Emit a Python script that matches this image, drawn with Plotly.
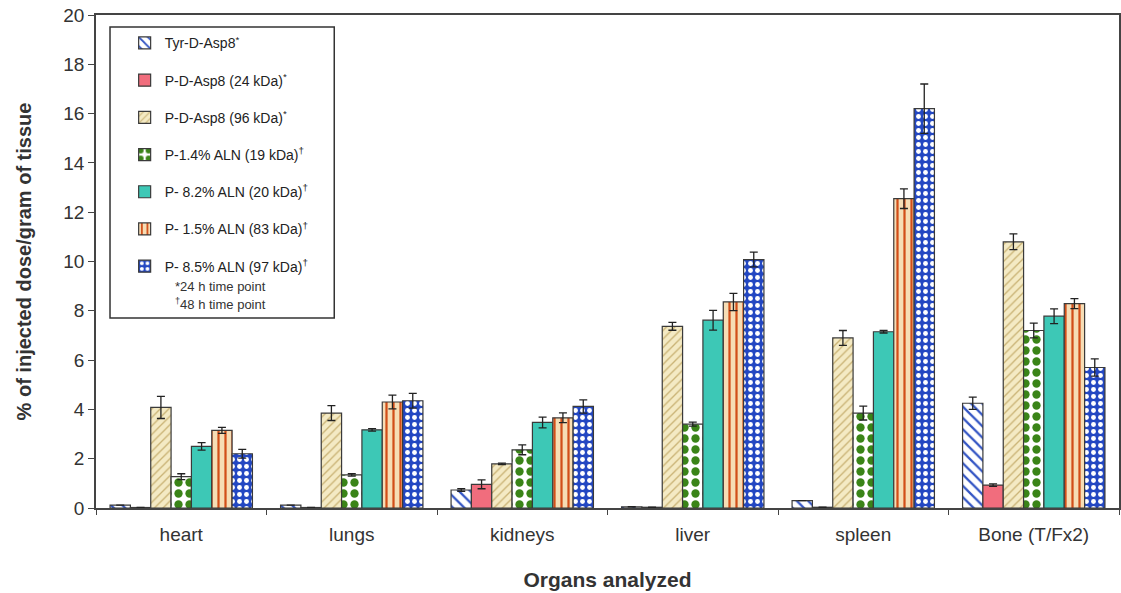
import plotly.graph_objects as go

organs = ["heart", "lungs", "kidneys", "liver", "spleen", "Bone (T/Fx2)"]

series_names = [
    "Tyr-D-Asp8<sup>*</sup>",
    "P-D-Asp8 (24 kDa)<sup>*</sup>",
    "P-D-Asp8 (96 kDa)<sup>*</sup>",
    "P-1.4% ALN (19 kDa)<sup>†</sup>",
    "P- 8.2% ALN (20 kDa)<sup>†</sup>",
    "P- 1.5% ALN (83 kDa)<sup>†</sup>",
    "P- 8.5% ALN (97 kDa)<sup>†</sup>",
]

tyr_vals = [0.12, 0.12, 0.73, 0.05, 0.30, 4.25]
tyr_err = [0.0, 0.0, 0.05, 0.0, 0.0, 0.25]
pd24_vals = [0.02, 0.02, 0.96, 0.03, 0.03, 0.93]
pd24_err = [0.0, 0.0, 0.18, 0.0, 0.0, 0.05]
pd96_vals = [4.08, 3.85, 1.79, 7.37, 6.90, 10.80]
pd96_err = [0.45, 0.30, 0.03, 0.16, 0.30, 0.32]
aln14_vals = [1.27, 1.34, 2.36, 3.40, 3.85, 7.20]
aln14_err = [0.12, 0.05, 0.20, 0.08, 0.28, 0.30]
aln82_vals = [2.50, 3.17, 3.47, 7.62, 7.15, 7.78]
aln82_err = [0.15, 0.05, 0.22, 0.40, 0.05, 0.30]
aln15_vals = [3.15, 4.30, 3.66, 8.36, 12.55, 8.29]
aln15_err = [0.12, 0.28, 0.20, 0.35, 0.40, 0.20]
aln85_vals = [2.20, 4.35, 4.12, 10.08, 16.20, 5.70]
aln85_err = [0.18, 0.30, 0.27, 0.30, 1.00, 0.35]

values = [tyr_vals, pd24_vals, pd96_vals, aln14_vals, aln82_vals, aln15_vals, aln85_vals]
errors = [tyr_err, pd24_err, pd96_err, aln14_err, aln82_err, aln15_err, aln85_err]

styles = [
    dict(color="white", pattern=dict(shape="\\", bgcolor="white", fgcolor="#3355C4", fgopacity=1, size=8, solidity=0.28)),
    dict(color="#F16D7D", pattern=dict(shape="")),
    dict(color="#F4EAC4", pattern=dict(shape="/", bgcolor="#F4EAC4", fgcolor="#C9B274", fgopacity=1, size=6, solidity=0.22)),
    dict(color="white", pattern=dict(shape=".", bgcolor="white", fgcolor="#3A8418", fgopacity=1, size=11, solidity=0.45)),
    dict(color="#3DC8B6", pattern=dict(shape="")),
    dict(color="#F6DDB5", pattern=dict(shape="|", bgcolor="#F6DDB5", fgcolor="#D24E18", fgopacity=1, size=7, solidity=0.32)),
    dict(color="#2347C2", pattern=dict(shape=".", bgcolor="#2347C2", fgcolor="white", fgopacity=1, size=7, solidity=0.38)),
]

fig = go.Figure()
for i, (name, vals, errs, st) in enumerate(zip(series_names, values, errors, styles)):
    fig.add_trace(go.Bar(
        x=organs, y=vals, name=name, legendgroup=f"g{i}",
        marker=dict(color=st["color"], pattern=st["pattern"],
                    line=dict(color="#3a3a3a", width=1.2)),
        error_y=dict(type="data", array=errs, visible=True, color="#222222",
                     thickness=1.3, width=4),
    ))

fig.update_layout(
    width=1121, height=593,
    margin=dict(l=96, r=2, t=15, b=85),
    paper_bgcolor="white", plot_bgcolor="white",
    barmode="group", bargap=0.165, bargroupgap=0,
    font=dict(family="Arial, Liberation Sans, sans-serif", color="#333333"),
    showlegend=True,
    legend=dict(x=0.028, y=0.975, xanchor="left", yanchor="top",
                bgcolor="rgba(0,0,0,0)", borderwidth=0,
                font=dict(size=14, color="#222222"),
                tracegroupgap=16, itemwidth=30),
    xaxis=dict(showline=True, linecolor="#444444", linewidth=1.5, mirror=True, automargin=False,
               ticks="outside", tickson="boundaries", ticklen=5, tickcolor="#444444",
               tickfont=dict(size=19, color="#333333"), ticklabelstandoff=8,
               title=dict(text="<b>Organs analyzed</b>", font=dict(size=21, color="#333333"), standoff=29)),
    yaxis=dict(range=[0, 20], dtick=2, showline=True, linecolor="#444444", linewidth=1.5, mirror=True,
               automargin=False, ticklabeloverflow="allow",
               ticks="outside", ticklen=6, tickcolor="#444444", showgrid=False, zeroline=False,
               tickfont=dict(size=19, color="#333333"),
               title=dict(text="<b>% of injected dose/gram of tissue</b>", font=dict(size=20, color="#333333"), standoff=26)),
)

fig.add_shape(type="rect", xref="paper", yref="paper",
              x0=0.0137, x1=0.2329, y0=0.3854, y1=0.9757,
              line=dict(color="#333333", width=1.5), fillcolor="rgba(0,0,0,0)", layer="above")

fig.add_annotation(xref="paper", yref="paper", x=0.122, y=0.450, text="*24 h time point",
                   showarrow=False, font=dict(size=13, color="#333333"), xanchor="center")
fig.add_annotation(xref="paper", yref="paper", x=0.122, y=0.414, text="<sup>†</sup>48 h time point",
                   showarrow=False, font=dict(size=13, color="#333333"), xanchor="center")

fig.write_html("out.html", config={"displayModeBar": False},
               post_script="document.body.style.margin='0';document.body.style.overflow='hidden';")
